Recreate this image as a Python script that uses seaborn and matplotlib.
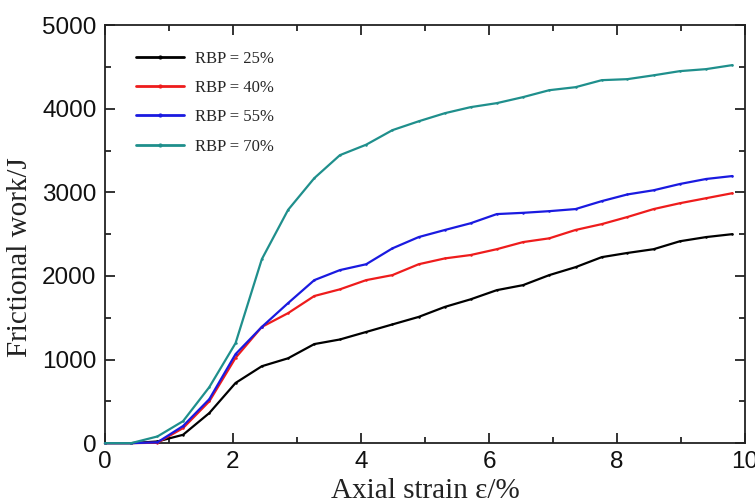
import numpy as np
import pandas as pd
import matplotlib
matplotlib.use("Agg")
import matplotlib.pyplot as plt
import seaborn as sns
from matplotlib.ticker import MultipleLocator

strain = [0.0, 0.41, 0.82, 1.22, 1.63, 2.04, 2.45, 2.86, 3.27, 3.67, 4.08, 4.49, 4.90,
          5.31, 5.71, 6.12, 6.53, 6.94, 7.35, 7.76, 8.16, 8.57, 8.98, 9.39, 9.80]

rbp25 = [0, 0, 20, 100, 360, 720, 920, 1015, 1185, 1240, 1330, 1420, 1510,
         1630, 1720, 1830, 1890, 2010, 2105, 2225, 2275, 2320, 2415, 2465, 2500]
rbp40 = [0, 0, 5, 180, 500, 1020, 1390, 1555, 1760, 1840, 1950, 2010, 2140,
         2210, 2250, 2320, 2405, 2450, 2550, 2620, 2705, 2800, 2870, 2930, 2990]
rbp55 = [0, 0, 10, 205, 526, 1065, 1390, 1675, 1950, 2070, 2140, 2330, 2465,
         2550, 2630, 2740, 2755, 2775, 2800, 2895, 2975, 3025, 3100, 3160, 3195]
rbp70 = [0, 0, 80, 263, 670, 1196, 2200, 2790, 3170, 3445, 3570, 3744, 3850,
         3947, 4019, 4067, 4139, 4222, 4258, 4342, 4354, 4400, 4450, 4474, 4522]

labels = ["RBP = 25%", "RBP = 40%", "RBP = 55%", "RBP = 70%"]
colors = ["#000000", "#ee1c1c", "#1a1ae0", "#1f8f8c"]

frames = []
for lab, vals in zip(labels, [rbp25, rbp40, rbp55, rbp70]):
    frames.append(pd.DataFrame({"strain": strain, "work": vals, "series": lab}))
df = pd.concat(frames, ignore_index=True)

sns.set_style("ticks")
plt.rcParams["font.family"] = ["Liberation Sans", "DejaVu Sans"]

fig = plt.figure(figsize=(7.55, 5.03), dpi=100)
ax = fig.add_axes([0.139, 0.119, 0.848, 0.831])

sns.lineplot(data=df, x="strain", y="work", hue="series", hue_order=labels,
             palette=dict(zip(labels, colors)), linewidth=1.6, marker="o",
             markersize=1.8, markeredgewidth=0, ax=ax, legend=True)
for ln in ax.lines:
    ln.set_clip_on(False)

ax.set_xlim(0, 10)
ax.set_ylim(0, 5000)
ax.xaxis.set_major_locator(MultipleLocator(2))
ax.xaxis.set_minor_locator(MultipleLocator(1))
ax.yaxis.set_major_locator(MultipleLocator(1000))
ax.yaxis.set_minor_locator(MultipleLocator(500))
ax.tick_params(which="both", direction="in", top=True, right=True, width=1.2,
               labelsize=17.5, colors="#111111")
ax.tick_params(which="major", length=7, pad=6)
ax.tick_params(which="minor", length=4)
for s in ax.spines.values():
    s.set_linewidth(1.3)
    s.set_color("#222222")
    s.set_zorder(1)

ax.set_xlabel("Axial strain ε/%", fontsize=21, family=["Liberation Serif", "DejaVu Serif"],
              labelpad=3, color="#222222")
ax.set_ylabel("Frictional work/J", fontsize=21, family=["Liberation Serif", "DejaVu Serif"],
              color="#222222")
ax.yaxis.set_label_coords(-0.112, 0.445)

leg = ax.legend(loc="upper left", bbox_to_anchor=(0.025, 0.975), frameon=False,
                prop={"family": ["Liberation Serif", "DejaVu Serif"], "size": 12},
                handlelength=2.9, handletextpad=0.65, labelspacing=0.8)
for h in leg.legend_handles:
    h.set_linewidth(2.0)
    h.set_markersize(3)

fig.savefig("out.png", dpi=100)
